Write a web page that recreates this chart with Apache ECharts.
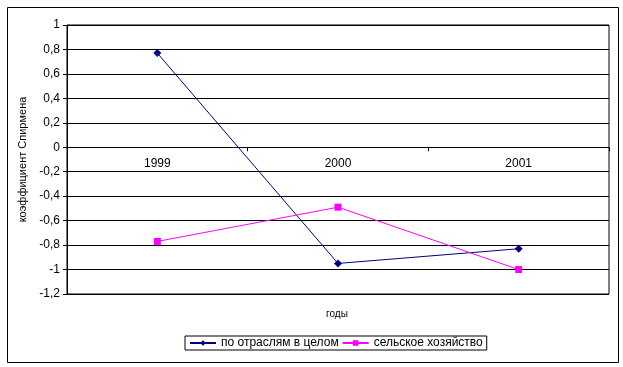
<!DOCTYPE html>
<html><head><meta charset="utf-8">
<script src="https://cdn.jsdelivr.net/npm/echarts@6/dist/echarts.min.js"></script>
<style>html,body{margin:0;padding:0;background:#fff}#c{width:623px;height:367px}</style>
</head><body><div id="c"></div>
<script>
const categories = ['1999', '2000', '2001'];
const seriesAll = [0.77, -0.95, -0.83];
const seriesAgri = [-0.77, -0.49, -1.0];
const seriesNames = ['по отраслям в целом', 'сельское хозяйство'];
const yTitle = 'коэффициент Спирмена';
const xTitle = 'годы';

const chart = echarts.init(document.getElementById('c'), null, {renderer: 'canvas'});
const font = 'Arial, "Liberation Sans", sans-serif';
chart.setOption({
  animation: false,
  textStyle: {fontFamily: font},
  graphic: [{
    type: 'rect', left: 5, top: 5,
    shape: {width: 611, height: 355},
    style: {fill: 'none', stroke: '#000', lineWidth: 1}
  }, {
    type: 'text', x: 337, y: 309,
    style: {text: xTitle, fill: '#000', font: '10px Arial, "Liberation Sans", sans-serif', align: 'center'}
  }],
  grid: {left: 67, top: 25, width: 542, height: 269, show: true, borderColor: '#000', borderWidth: 1,
         containLabel: false, outerBoundsMode: 'none'},
  xAxis: [{
    type: 'category', data: categories, boundaryGap: true,
    axisLine: {onZero: true, lineStyle: {color: '#000', width: 1}},
    axisTick: {show: true, alignWithLabel: false, length: 4, lineStyle: {color: '#000'}},
    axisLabel: {show: false},
    splitLine: {show: false}
  }, {
    type: 'category', data: categories, boundaryGap: true, position: 'bottom', offset: -147,
    axisLine: {show: false, onZero: false},
    axisTick: {show: false},
    axisLabel: {color: '#000', fontSize: 12, margin: 11, fontFamily: font},
    splitLine: {show: false}
  }],
  yAxis: {
    type: 'value', min: -1.2, max: 1, interval: 0.2,
    name: yTitle, nameLocation: 'middle', nameGap: 39, nameRotate: 90,
    nameTextStyle: {fontSize: 11, color: '#000', fontFamily: font},
    axisLine: {show: true, lineStyle: {color: '#000'}},
    axisTick: {show: true, length: 4, lineStyle: {color: '#000'}},
    axisLabel: {color: '#000', fontSize: 12, margin: 7, fontFamily: font,
      formatter: v => String(Math.round(v * 10) / 10).replace('.', ',')},
    splitLine: {show: true, lineStyle: {color: '#000', width: 1}}
  },
  legend: {
    orient: 'horizontal', left: 185, top: 336,
    padding: [1, 4, 1, 4], itemGap: 3, itemWidth: 26, itemHeight: 7,
    borderColor: '#000', borderWidth: 1,
    textStyle: {color: '#000', fontSize: 12, fontFamily: font},
    data: seriesNames
  },
  series: [
    {name: seriesNames[0], type: 'line', data: seriesAll, symbol: 'diamond', symbolSize: 8,
     color: '#000080', lineStyle: {width: 1, color: '#000080'}, itemStyle: {color: '#000080'}},
    {name: seriesNames[1], type: 'line', data: seriesAgri, symbol: 'rect', symbolSize: 7,
     color: '#FF00FF', lineStyle: {width: 1, color: '#FF00FF'}, itemStyle: {color: '#FF00FF'}}
  ]
});
</script></body></html>
